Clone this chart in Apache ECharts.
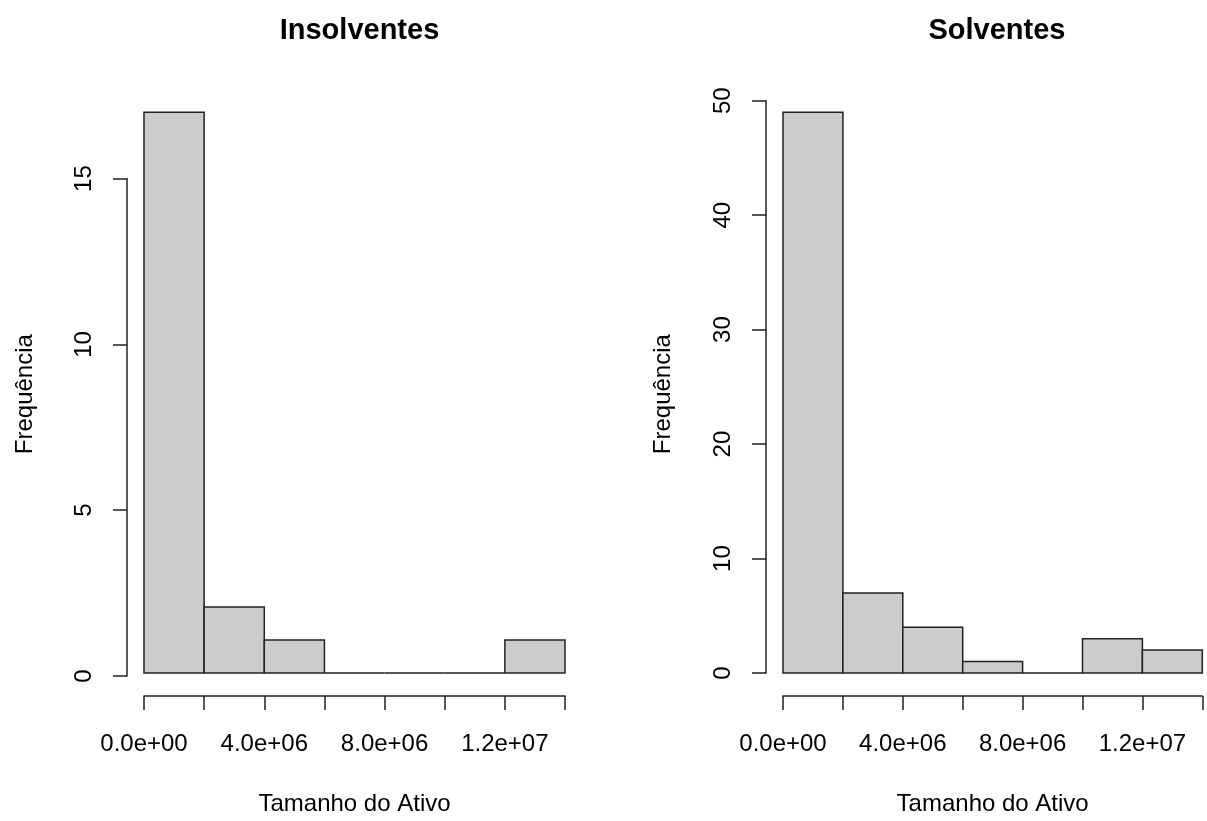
<!DOCTYPE html>
<html>
<head>
<meta charset="utf-8">
<script src="https://cdn.jsdelivr.net/npm/echarts@6/dist/echarts.min.js"></script>
<style>
  html, body { margin: 0; padding: 0; background: #fff; }
  #chart { width: 1207px; height: 821px; }
</style>
</head>
<body>
<div id="chart"></div>
<script>
// Histogram bin edges (Tamanho do Ativo) shared by both panels
const binEdges = [0, 2e6, 4e6, 6e6, 8e6, 10e6, 12e6, 14e6];
// Frequency per bin
const insolventesCounts = [17, 2, 1, 0, 0, 0, 1];
const solventesCounts = [49, 7, 4, 1, 0, 3, 2];
// Labelled x ticks
const xTickValues = [0, 4e6, 8e6, 12e6];
const xTickLabels = ['0.0e+00', '4.0e+06', '8.0e+06', '1.2e+07'];
// Panel titles and axis names
const panelTitles = ['Insolventes', 'Solventes'];
const xAxisName = 'Tamanho do Ativo';
const yAxisName = 'Frequência';

const FONT = '"Liberation Sans", Arial, sans-serif';
const INK = '#000';
const LINE = '#222';
const AXIS_FONT = 24;
const TITLE_FONT = 29;

const chart = echarts.init(document.getElementById('chart'), null, { renderer: 'canvas' });

function xLabel(v) {
  const i = xTickValues.indexOf(v);
  return i >= 0 ? xTickLabels[i] : '';
}

function histSeries(counts, xIdx, yIdx) {
  return {
    type: 'custom',
    xAxisIndex: xIdx,
    yAxisIndex: yIdx,
    clip: false,
    silent: true,
    data: counts.map((c, i) => [binEdges[i], binEdges[i + 1], c]),
    renderItem: function (params, api) {
      const p0 = api.coord([api.value(0), 0]);
      const p1 = api.coord([api.value(1), api.value(2)]);
      return {
        type: 'rect',
        shape: { x: p0[0], y: p1[1], width: p1[0] - p0[0], height: p0[1] - p1[1] },
        style: { fill: '#cccccc', stroke: LINE, lineWidth: 1.5 }
      };
    }
  };
}

const axisText = { color: INK, fontFamily: FONT, fontSize: AXIS_FONT };

function visibleX(gridIndex) {
  return {
    type: 'value', gridIndex: gridIndex, min: 0, max: 14e6, interval: 2e6,
    offset: 23,
    axisLine: { show: true, onZero: false, lineStyle: { color: LINE, width: 1.5 } },
    axisTick: { show: true, length: 14, lineStyle: { color: LINE, width: 1.5 } },
    axisLabel: Object.assign({ margin: 36, formatter: xLabel, showMinLabel: true, showMaxLabel: true }, axisText),
    splitLine: { show: false },
    name: xAxisName, nameLocation: 'middle', nameGap: 96,
    nameTextStyle: axisText
  };
}

function hiddenAxis(gridIndex, min, max) {
  return {
    type: 'value', gridIndex: gridIndex, min: min, max: max,
    axisLine: { show: false, onZero: false }, axisTick: { show: false },
    axisLabel: { show: false }, splitLine: { show: false }
  };
}

function visibleY(gridIndex, max, interval) {
  return {
    type: 'value', gridIndex: gridIndex, min: 0, max: max, interval: interval,
    offset: 17,
    axisLine: { show: true, onZero: false, lineStyle: { color: LINE, width: 1.5 } },
    axisTick: { show: true, length: 14, lineStyle: { color: LINE, width: 1.5 } },
    axisLabel: Object.assign({ rotate: 90, margin: 31 }, axisText),
    splitLine: { show: false }
  };
}

// Axis carrying only the y title, centred on the whole plotting frame
function nameY(gridIndex) {
  return Object.assign(hiddenAxis(gridIndex, 0, 1), {
    name: yAxisName, nameLocation: 'middle', nameGap: 90,
    nameTextStyle: axisText
  });
}

const titleStyle = { fontFamily: FONT, fontWeight: 'bold', fontSize: TITLE_FONT, color: INK };

const option = {
  backgroundColor: '#fff',
  animation: false,
  title: [
    { text: panelTitles[0], left: 354.5, top: 11, textAlign: 'center', textStyle: titleStyle },
    { text: panelTitles[1], left: 992, top: 11, textAlign: 'center', textStyle: titleStyle }
  ],
  grid: [
    // left panel: bars + x axis
    { left: 144, width: 421, top: 112.3, height: 563.7 },
    // left panel: y axis drawn only over 0..15
    { left: 144, width: 421, top: 178.6, height: 497.4 },
    // right panel
    { left: 783, width: 419.3, top: 100.7, height: 575.3 },
    // plotting frames (for the y titles)
    { left: 127.2, width: 454.6, top: 89.7, height: 608.9 },
    { left: 765.7, width: 453.2, top: 89.7, height: 608.9 }
  ],
  xAxis: [
    visibleX(0),
    hiddenAxis(1, 0, 14e6),
    visibleX(2),
    hiddenAxis(3, 0, 1),
    hiddenAxis(4, 0, 1)
  ],
  yAxis: [
    hiddenAxis(0, 0, 17),
    visibleY(1, 15, 5),
    visibleY(2, 50, 10),
    nameY(3),
    nameY(4)
  ],
  series: [
    histSeries(insolventesCounts, 0, 0),
    histSeries(solventesCounts, 2, 2)
  ]
};

chart.setOption(option);
</script>
</body>
</html>
